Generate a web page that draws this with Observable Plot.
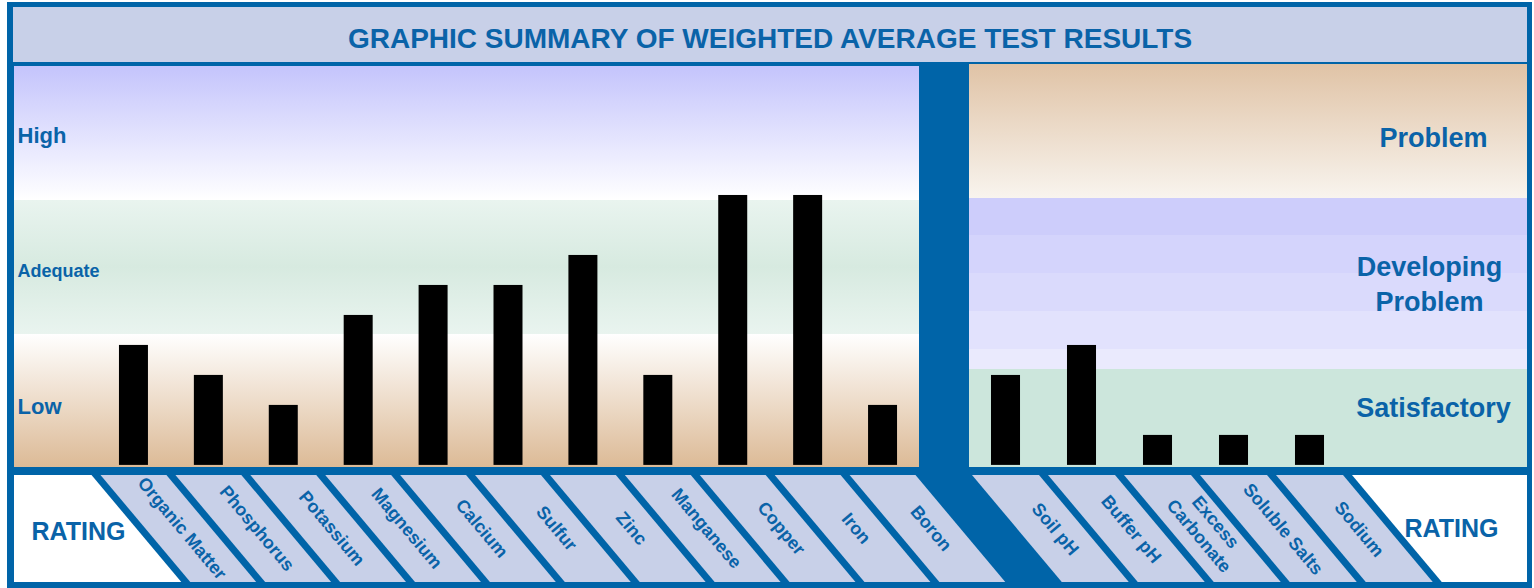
<!DOCTYPE html>
<html>
<head>
<meta charset="utf-8">
<script src="https://cdn.jsdelivr.net/npm/d3@7"></script>
<script src="https://cdn.jsdelivr.net/npm/@observablehq/plot@0.6"></script>
<style>
html, body { margin: 0; padding: 0; background: #ffffff; }
#wrap { position: relative; width: 1534px; height: 588px; overflow: hidden; font-family: "Liberation Sans", Arial, Helvetica, sans-serif; }
#frame { position: absolute; left: 7px; top: 2px; width: 1525px; height: 586px; background: #0064a8; }
#title { position: absolute; left: 13px; top: 7px; width: 1514px; height: 55px; background: #c8d0e8; color: #0a63a8;
  font-weight: bold; font-size: 28px; text-align: center; line-height: 64px; white-space: nowrap; }
.layer { position: absolute; left: 0; top: 0; }
</style>
</head>
<body>
<div id="wrap">
  <div id="frame"></div>
  <div id="title"></div>
</div>
<script>
// ---------------- DATA ----------------
const chartTitle = "GRAPHIC SUMMARY OF WEIGHTED AVERAGE TEST RESULTS";
const ratingTitle = "RATING";

const nutrients = ["Organic Matter", "Phosphorus", "Potassium", "Magnesium", "Calcium", "Sulfur",
                   "Zinc", "Manganese", "Copper", "Iron", "Boron"];
const nutrientValues = [4, 3, 2, 5, 6, 6, 7, 3, 9, 9, 2];

const soilTests = ["Soil pH", "Buffer pH", "Excess Carbonate", "Soluble Salts", "Sodium"];
const soilTickLabels = ["Soil pH", "Buffer pH", "Excess\nCarbonate", "Soluble Salts", "Sodium"];
const soilValues = [3, 4, 1, 1, 1];

const nutrientRatings = ["Low", "Adequate", "High"];
const nutrientRatingBounds = [-0.07, 4.37, 8.83, 13.3];

const soilRatings = ["Satisfactory", "Developing\nProblem", "Problem"];
const soilRatingBounds = [-0.07, 3.2, 8.9, 13.37];
const developingSteps = [3.2, 3.87, 5.13, 6.4, 7.67, 8.9];

// ---------------- STYLE ----------------
const W = 1534, H = 588;
const TEXT = "#0a63a8";
const CELL = "#c8d0e8";
const FONT = "'Liberation Sans', Arial, Helvetica, sans-serif";
const nutrientBandFills = ["url(#g-low)", "url(#g-adequate)", "url(#g-high)"];
const nutrientLabelSizes = [22, 18, 22];
const nutrientLabelDy = [6, 4, 2];
const soilBandFills = ["#cce6dc", null, "url(#g-problem)"];
const developingFills = ["#eaeafd", "#e2e2fd", "#dadafc", "#d4d4fc", "#cdcdfb"];
const soilLabelDy = [-13, -2, 4];
const soilLabelDx = [-94, -98, -94];

document.getElementById("title").textContent = chartTitle;

function defsMark(grads) {
  return () => {
    const defs = d3.create("svg:defs");
    for (const [id, stops] of grads) {
      const g = defs.append("linearGradient").attr("id", id)
        .attr("x1", 0).attr("y1", 0).attr("x2", 0).attr("y2", 1);
      for (const [o, c] of stops) g.append("stop").attr("offset", o).attr("stop-color", c);
    }
    return defs.node();
  };
}

// slanted label cells under the bars, built from the band scale
function labelRow(categories, side) {
  return (index, scales, values, dims) => {
    const x = scales.x;
    const top = dims.height - dims.marginBottom + 8;
    const bottom = dims.height - 6;
    const slant = (bottom - top) * Math.tan(40 * Math.PI / 180);
    const step = x.step(), bw = x.bandwidth(), gap = 9;
    const g = d3.create("svg:g");
    const poly = (pts, fill) => g.append("polygon").attr("points", pts.map(p => p.join(",")).join(" ")).attr("fill", fill);
    let first = null, last = null;
    for (const c of categories) {
      const x0 = x(c) - (step - bw) / 2, x1 = x0 + step;
      if (first === null) first = x0;
      last = x1;
      poly([[x0 + gap / 2, top], [x1 - gap / 2, top], [x1 - gap / 2 + slant, bottom], [x0 + gap / 2 + slant, bottom]], CELL);
    }
    if (side === "left") {
      const L = dims.marginLeft;
      poly([[L, top], [first - gap / 2, top], [first - gap / 2 + slant, bottom], [L, bottom]], "#ffffff");
    } else {
      const R = dims.width - dims.marginRight;
      poly([[last + gap / 2, top], [R, top], [R, bottom], [last + gap / 2 + slant, bottom]], "#ffffff");
    }
    return g.node();
  };
}

// ---------------- LEFT PANEL (nutrients) ----------------
const leftBands = nutrientRatings.map((r, i) => ({
  rating: r, y1: nutrientRatingBounds[i], y2: nutrientRatingBounds[i + 1],
  fill: nutrientBandFills[i], size: nutrientLabelSizes[i]
}));

const left = Plot.plot({
  width: W, height: H,
  marginLeft: 14, marginRight: W - 919, marginTop: 66, marginBottom: H - 467,
  style: { background: "transparent", fontFamily: FONT, overflow: "visible" },
  x: { type: "band", domain: nutrients, range: [96, 920], paddingInner: 0.613, paddingOuter: 0.3065, round: false, axis: null },
  y: { domain: [nutrientRatingBounds[0], nutrientRatingBounds[3]], axis: null },
  color: { type: "identity" },
  marks: [
    defsMark([
      ["g-high", [[0, "#c4c4fc"], [1, "#ffffff"]]],
      ["g-adequate", [[0, "#e9f4ef"], [0.5, "#d7eae0"], [1, "#e9f4ef"]]],
      ["g-low", [[0, "#ffffff"], [1, "#dcba96"]]]
    ]),
    Plot.rect(leftBands, { y1: "y1", y2: "y2", fill: "fill", shapeRendering: "crispEdges" }),
    Plot.barY(nutrients, { x: d => d, y: (d, i) => nutrientValues[i], fill: "#000000" }),
    ...leftBands.map((b, i) => Plot.text([b], { y: d => (d.y1 + d.y2) / 2, text: "rating", frameAnchor: "left", textAnchor: "start",
      dx: 3, dy: nutrientLabelDy[i], fontSize: b.size, fontWeight: "bold", fill: TEXT })),
    labelRow(nutrients, "left"),
    Plot.text(nutrients, { x: d => d, text: d => d, frameAnchor: "bottom", dx: 48, dy: 61, rotate: 50,
      textAnchor: "middle", lineAnchor: "middle", fontSize: 18, fontWeight: "bold", fill: TEXT }),
    Plot.text([ratingTitle], { text: d => d, frameAnchor: "bottom-left", dx: 64, dy: 64, textAnchor: "middle",
      lineAnchor: "middle", fontSize: 25, fontWeight: "bold", fill: TEXT })
  ]
});
left.classList.add("layer");
document.getElementById("wrap").appendChild(left);

// ---------------- RIGHT PANEL (soil tests) ----------------
const rightBands = [];
soilRatings.forEach((r, i) => {
  if (soilBandFills[i]) rightBands.push({ y1: soilRatingBounds[i], y2: soilRatingBounds[i + 1], fill: soilBandFills[i] });
});
for (let i = 0; i < developingSteps.length - 1; i++) {
  rightBands.push({ y1: developingSteps[i], y2: developingSteps[i + 1], fill: developingFills[i] });
}

const right = Plot.plot({
  width: W, height: H,
  marginLeft: 969, marginRight: 7, marginTop: 64, marginBottom: H - 467,
  style: { background: "transparent", fontFamily: FONT, overflow: "visible" },
  x: { type: "band", domain: soilTests, range: [967.5, 1347.5], paddingInner: 0.618, paddingOuter: 0.309, round: false, axis: null },
  y: { domain: [soilRatingBounds[0], soilRatingBounds[3]], axis: null },
  color: { type: "identity" },
  marks: [
    defsMark([
      ["g-problem", [[0, "#e0c3a6"], [1, "#f8f4ee"]]]
    ]),
    Plot.rect(rightBands, { y1: "y1", y2: "y2", fill: "fill", shapeRendering: "crispEdges" }),
    Plot.barY(soilTests, { x: d => d, y: (d, i) => soilValues[i], fill: "#000000" }),
    ...soilRatings.map((r, i) => Plot.text([r], {
      y: () => (soilRatingBounds[i] + soilRatingBounds[i + 1]) / 2, text: d => d,
      frameAnchor: "right", dx: soilLabelDx[i], dy: soilLabelDy[i], textAnchor: "middle", lineHeight: 1.33,
      fontSize: 27, fontWeight: "bold", fill: TEXT })),
    labelRow(soilTests, "right"),
    Plot.text(soilTests, { x: d => d, text: (d, i) => soilTickLabels[i], frameAnchor: "bottom", dx: 50, dy: 61, rotate: 50,
      textAnchor: "middle", lineAnchor: "middle", lineHeight: 1.2, fontSize: 18, fontWeight: "bold", fill: TEXT }),
    Plot.text([ratingTitle], { text: d => d, frameAnchor: "bottom-right", dx: -76, dy: 61, textAnchor: "middle",
      lineAnchor: "middle", fontSize: 25, fontWeight: "bold", fill: TEXT })
  ]
});
right.classList.add("layer");
document.getElementById("wrap").appendChild(right);
</script>
</body>
</html>
